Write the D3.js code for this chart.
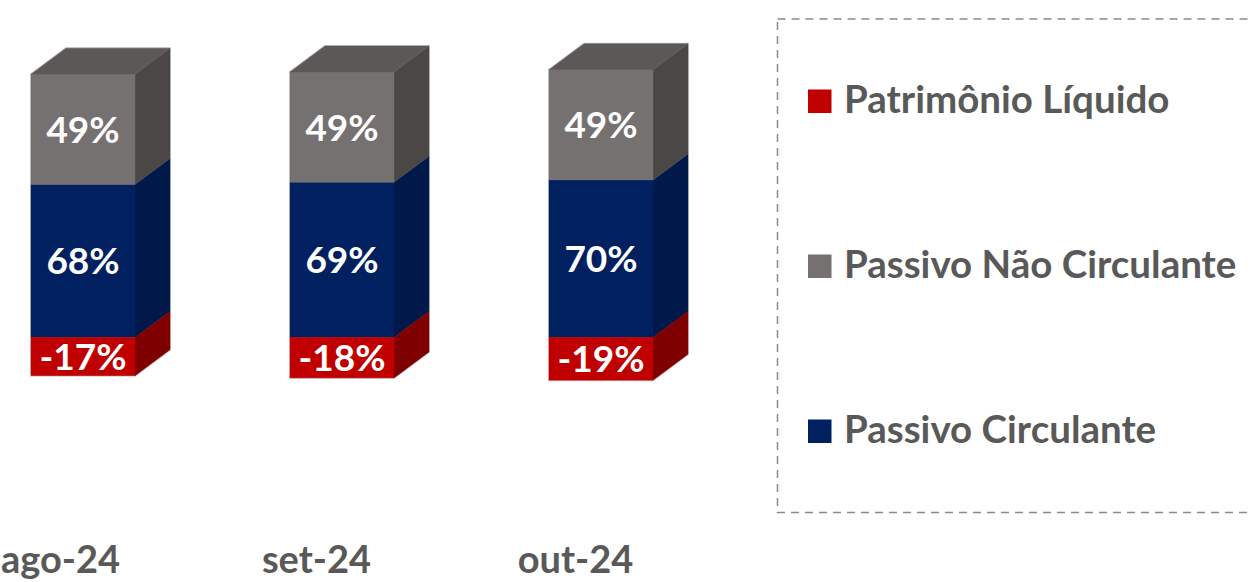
<!DOCTYPE html>
<html>
<head>
<meta charset="utf-8">
<script src="https://cdn.jsdelivr.net/npm/d3@7"></script>
<style>
  html, body { margin: 0; padding: 0; background: #ffffff; }
  svg { display: block; }
  text { font-family: Lato, "Open Sans", sans-serif; font-weight: 700; }
</style>
</head>
<body>
<svg id="chart" width="1252" height="582"></svg>
<script>
// Composition of liabilities and equity, by month
const categories = ["ago-24", "set-24", "out-24"];
const passivoCirculante = [68, 69, 70];
const passivoNaoCirculante = [49, 49, 49];
const patrimonioLiquido = [-17, -18, -19];

const seriesKeys = ["Passivo Circulante", "Passivo Não Circulante", "Patrimônio Líquido"];
const legendOrder = ["Patrimônio Líquido", "Passivo Não Circulante", "Passivo Circulante"];

const colors = {
  "Passivo Circulante":     { front: "#002060", side: "#00184a", top: "#001a50" },
  "Passivo Não Circulante": { front: "#767171", side: "#4b4746", top: "#5c5857" },
  "Patrimônio Líquido":     { front: "#c00000", side: "#7f0000", top: "#9a0000" }
};

const rows = categories.map((c, i) => ({
  cat: c,
  "Passivo Circulante": passivoCirculante[i],
  "Passivo Não Circulante": passivoNaoCirculante[i],
  "Patrimônio Líquido": patrimonioLiquido[i]
}));

const svg = d3.select("#chart");

// percent labels with a plain hyphen for negatives
const pct = d3.formatLocale({ decimal: ",", thousands: ".", grouping: [3], currency: ["R$", ""], minus: "-" })
  .format(".0f");

// Layout
const barWidth = 104;
const depthX = 35, depthY = -26;

const x = d3.scalePoint().domain(categories).range([83, 601]);
const y = d3.scaleLinear().domain([-20, 120]).range([382.4, 67.4]);

const stacked = d3.stack()
  .keys(seriesKeys)
  .offset(d3.stackOffsetDiverging)(rows);

// Per-bar segments with their extents
const segments = [];
stacked.forEach(layer => {
  layer.forEach((d, i) => {
    segments.push({ key: layer.key, cat: categories[i], y0: d[0], y1: d[1], value: d.data[layer.key] });
  });
});

const barsG = svg.append("g").attr("class", "bars");

categories.forEach(cat => {
  const segs = segments.filter(s => s.cat === cat);
  const lo = d3.min(segs, s => Math.min(s.y0, s.y1));
  const hi = d3.max(segs, s => Math.max(s.y0, s.y1));
  const xl = x(cat) - barWidth / 2, xr = x(cat) + barWidth / 2;
  const yt = y(hi), yb = y(lo);
  const g = barsG.append("g");

  // faint outline around the whole prism
  g.append("path")
    .attr("d", `M${xl},${yb} L${xl},${yt} L${xl + depthX},${yt + depthY} L${xr + depthX},${yt + depthY} L${xr + depthX},${yb + depthY} L${xr},${yb} Z`)
    .attr("fill", "none")
    .attr("stroke", "#d4d4d4")
    .attr("stroke-width", 2);

  segs.forEach(s => {
    const top = y(Math.max(s.y0, s.y1));
    const bot = y(Math.min(s.y0, s.y1));
    const c = colors[s.key];
    // side face
    g.append("path")
      .attr("d", `M${xr},${top} L${xr + depthX},${top + depthY} L${xr + depthX},${bot + depthY} L${xr},${bot} Z`)
      .attr("fill", c.side)
      .attr("stroke", c.side)
      .attr("stroke-width", 0.5);
    // front face
    g.append("rect")
      .attr("x", xl).attr("y", top)
      .attr("width", barWidth).attr("height", bot - top)
      .attr("fill", c.front)
      .attr("stroke", c.front)
      .attr("stroke-width", 0.5);
  });

  // top face of the highest segment
  const topSeg = segs.reduce((a, b) => (Math.max(b.y0, b.y1) > Math.max(a.y0, a.y1) ? b : a));
  g.append("path")
    .attr("d", `M${xl},${yt} L${xl + depthX},${yt + depthY} L${xr + depthX},${yt + depthY} L${xr},${yt} Z`)
    .attr("fill", colors[topSeg.key].top)
    .attr("stroke", colors[topSeg.key].top)
    .attr("stroke-width", 0.5);

  // value labels
  segs.forEach(s => {
    const mid = (y(s.y0) + y(s.y1)) / 2;
    g.append("text")
      .attr("x", x(cat))
      .attr("y", mid + 13.5)
      .attr("text-anchor", "middle")
      .attr("fill", "#ffffff")
      .style("font-size", "37px")
      .text(pct(s.value) + "%");
  });
});

// Category axis (labels sit toward the front-left of the 3D floor)
const axisG = svg.append("g")
  .attr("transform", "translate(-26,573)")
  .call(d3.axisBottom(x).tickSize(0).tickPadding(0));
axisG.select(".domain").remove();
axisG.selectAll("text")
  .attr("y", 0).attr("dy", null)
  .attr("fill", "#595959")
  .style("font-size", "38px")
  .style("font-family", "Lato, 'Open Sans', sans-serif")
  .style("font-weight", 700);

// keep the first label inside the left edge
axisG.selectAll(".tick").each(function () {
  const t = d3.select(this).select("text");
  const bb = this.getBBox();
  const tr = this.getCTM();
  const left = tr.e + bb.x;
  if (left < 1) t.attr("x", 1 - left);
});

// Legend in a dashed frame
const legendG = svg.append("g").attr("class", "legend");
legendG.append("rect")
  .attr("x", 777.5).attr("y", 19)
  .attr("width", 520).attr("height", 493.5)
  .attr("fill", "none")
  .attr("stroke", "#8a8a8a")
  .attr("stroke-width", 1.5)
  .attr("stroke-dasharray", "8,6");

const legendY = d3.scalePoint().domain(legendOrder).range([113, 443]);
const items = legendG.selectAll("g.item")
  .data(legendOrder)
  .join("g")
  .attr("class", "item")
  .attr("transform", d => `translate(808,${legendY(d)})`);
items.append("rect")
  .attr("x", 0).attr("y", -23.5)
  .attr("width", 23.5).attr("height", 23.5)
  .attr("fill", d => colors[d].front);
items.append("text")
  .attr("x", 36).attr("y", 0)
  .attr("fill", "#595959")
  .style("font-size", "38.5px")
  .text(d => d);
</script>
</body>
</html>
